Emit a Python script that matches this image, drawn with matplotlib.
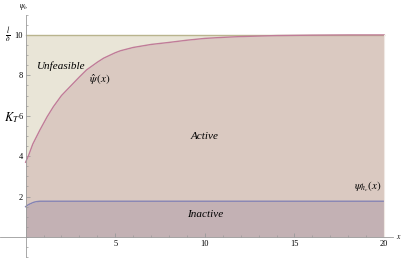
import numpy as np
import matplotlib.pyplot as plt

# values
x_hat = [0, 0.15, 0.4, 0.8, 1.2, 1.55, 2, 2.5, 3, 3.4, 4, 4.35, 5, 5.3, 6, 7, 8, 9, 10, 11, 12, 14, 16, 18, 20]
psi_hat = [3.7, 4.0, 4.6, 5.3, 5.95, 6.45, 7.0, 7.46, 7.92, 8.27, 8.65, 8.85, 9.12, 9.22, 9.38, 9.53, 9.63, 9.74, 9.83, 9.88, 9.92, 9.97, 9.99, 10, 10]
x_hc = [0, 0.1, 0.2, 0.3, 0.4, 0.5, 0.6, 0.7, 0.8, 1, 5, 10, 15, 20]
psi_hc = [1.5, 1.57, 1.62, 1.66, 1.7, 1.73, 1.75, 1.76, 1.77, 1.77, 1.77, 1.77, 1.77, 1.77]
upper = 10

x_hat = np.array(x_hat)
psi_hat = np.array(psi_hat)
x_hc = np.array(x_hc)
psi_hc = np.array(psi_hc)

plt.rcParams['font.family'] = ['Liberation Serif', 'DejaVu Serif']
plt.rcParams['mathtext.fontset'] = 'stix'

fig = plt.figure(figsize=(4.02, 2.58), dpi=100)
ax = fig.add_axes([0, 0, 1, 1])

ax.fill_between(x_hat, psi_hat, upper, color='#e9e5d7', lw=0)
xx = np.union1d(x_hat, x_hc)
ax.fill_between(xx, np.interp(xx, x_hc, psi_hc), np.interp(xx, x_hat, psi_hat), color='#dac9c1', lw=0)
ax.fill_between(x_hc, 0, psi_hc, color='#c3b1b4', lw=0)
ax.plot([0, 20], [upper, upper], color='#b9b48e', lw=1)
ax.plot(x_hat, psi_hat, color='#c07c98', lw=1)
ax.plot(x_hc, psi_hc, color='#8583b3', lw=1)
ax.plot([20, 20], [0, upper], color='#efe9e4', lw=0.8)

ax.set_xlim(-1.43, 21.0)
ax.set_ylim(-1.04, 11.73)
for s in ['top', 'right']:
    ax.spines[s].set_visible(False)
ax.spines['left'].set_position(('data', 0))
ax.spines['bottom'].set_position(('data', 0))
ax.spines['left'].set_bounds(-1, 11)
ax.spines['bottom'].set_bounds(-1.43, 20.5)
for s in ['left', 'bottom']:
    ax.spines[s].set_color('#9a9a9a')
    ax.spines[s].set_linewidth(0.6)

ax.set_xticks([5, 10, 15, 20])
ax.set_xticks(np.arange(1, 21), minor=True)
ax.set_yticks([2, 4, 6, 8, 10])
ax.set_yticks(np.arange(-1, 11.01, 0.5), minor=True)
ax.tick_params(axis='both', which='major', direction='in', length=3, color='#9a9a9a',
               labelsize=6, pad=2, width=0.6)
ax.tick_params(axis='both', which='minor', direction='in', length=1.6, color='#9a9a9a', width=0.5)

ax.text(2.0, 8.47, 'Unfeasible', fontsize=8, style='italic', ha='center', va='center')
ax.text(4.15, 7.8, r'$\hat{\psi}\,(x)$', fontsize=8, ha='center', va='center')
ax.text(10, 4.95, 'Active', fontsize=8, style='italic', ha='center', va='center')
ax.text(10, 1.1, 'Inactive', fontsize=8, style='italic', ha='center', va='center')
ax.text(19.1, 2.5, r'$\psi_{h_c}(x)$', fontsize=8, ha='center', va='center')
ax.text(-0.75, 5.9, r'$K_T$', fontsize=9, ha='center', va='center')
ax.text(-1.0, 10.0, r'$\frac{l}{\delta}$', fontsize=8, ha='center', va='center')
ax.text(-0.1, 11.4, r'$\psi_b$', fontsize=5.5, ha='center', va='center')
ax.text(20.8, 0.0, r'$x$', fontsize=5.5, ha='center', va='center')

fig.savefig('out.png', dpi=100)
